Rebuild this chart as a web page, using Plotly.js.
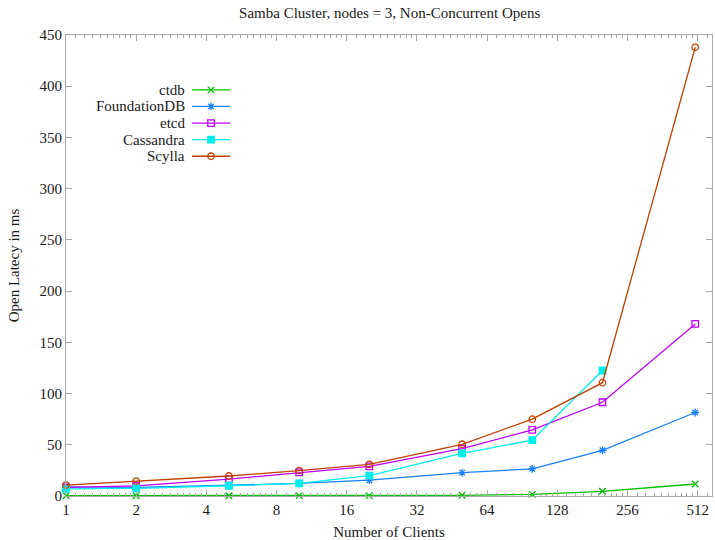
<!DOCTYPE html>
<html>
<head>
<meta charset="utf-8">
<script src="https://cdn.plot.ly/plotly-3.0.1.min.js"></script>
<style>html,body{margin:0;padding:0;background:#fff;}#chart{width:715px;height:540px;}</style>
</head>
<body>
<div id="chart"></div>
<script>
// ---- data ----
const clients = [1, 2, 5, 10, 20, 50, 100, 200, 500];
const ctdb = [0.3, 0.3, 0.3, 0.4, 0.4, 0.7, 1.6, 4.6, 11.7];
const foundationDB = [9, 8.5, 10.5, 12.4, 15.4, 22.8, 26.5, 44.6, 81.5];
const etcd = [8.5, 9.8, 16.5, 23, 29, 46.3, 64.5, 91.5, 168];
const cassandra = [7, 7.5, 10, 12.4, 19.8, 41.6, 54.5, 122.5];
const scylla = [10.7, 14.6, 19.5, 24.7, 30.8, 50.5, 75, 110.6, 438];
const seriesNames = ["ctdb", "FoundationDB", "etcd", "Cassandra", "Scylla"];
const xTickVals = [1, 2, 4, 8, 16, 32, 64, 128, 256, 512];
const yTickVals = [0, 50, 100, 150, 200, 250, 300, 350, 400, 450];

// ---- styles ----
const colors = ["#00c000", "#1a80ff", "#c000ff", "#00eeee", "#c04000"];
const symbols = ["x-thin-open", "asterisk-open", "square-open", "square", "circle-open"];
const msizes = [6.5, 6.5, 6.5, 6.5, 6.5];
const values = [ctdb, foundationDB, etcd, cassandra, scylla];
const FONT = "Liberation Serif, Times New Roman, serif";
const axisGray = "#a8a8a8";
const TXT = "#1a1a1a";

// minor ticks (log-style linear steps between powers of two)
const minorVals = [];
for (let i = 0; i < xTickVals.length; i++) {
  const b = xTickVals[i];
  for (let k = 1; k <= 9; k++) {
    const v = b * (1 + k / 10);
    if (v < 590) minorVals.push(v);
  }
}

const traces = [];
values.forEach((ys, i) => {
  traces.push({
    x: clients.slice(0, ys.length), y: ys, type: "scatter", mode: "lines+markers",
    name: seriesNames[i], showlegend: false,
    line: {color: colors[i], width: 1.3},
    marker: {symbol: symbols[i], size: msizes[i], color: colors[i], line: {color: colors[i], width: 1.3}},
    cliponaxis: false
  });
});

// custom gnuplot-style legend (text left, sample right)
const legX0 = 0.195, legX1 = 0.254, legXm = 0.2245, legTextX = 0.188;
const legY = [0.881, 0.845, 0.809, 0.773, 0.737];
const annotations = [];
seriesNames.forEach((n, i) => {
  traces.push({
    x: [legX0, legX1], y: [legY[i], legY[i]], xaxis: "x2", yaxis: "y2",
    type: "scatter", mode: "lines", showlegend: false, hoverinfo: "skip",
    line: {color: colors[i], width: 1.3}
  });
  traces.push({
    x: [legXm], y: [legY[i]], xaxis: "x2", yaxis: "y2",
    type: "scatter", mode: "markers", showlegend: false, hoverinfo: "skip",
    marker: {symbol: symbols[i], size: msizes[i], color: colors[i], line: {color: colors[i], width: 1.3}}
  });
  annotations.push({
    xref: "paper", yref: "paper", x: legTextX, y: legY[i], xanchor: "right", yanchor: "middle",
    text: n, showarrow: false, font: {family: FONT, size: 15, color: TXT}
  });
});

const layout = {
  width: 715, height: 540,
  margin: {l: 66, r: 3, t: 35, b: 44, pad: 0},
  paper_bgcolor: "#fff", plot_bgcolor: "#fff",
  font: {family: FONT, size: 15, color: TXT},
  showlegend: false,
  title: {text: "Samba Cluster, nodes = 3, Non-Concurrent Opens", x: 0.545, xanchor: "center", y: 0.976, yanchor: "middle",
          font: {family: FONT, size: 15, color: TXT}},
  xaxis: {
    type: "log", range: [0, Math.log10(590)],
    tickmode: "array", tickvals: xTickVals, ticktext: xTickVals.map(String),
    ticks: "inside", ticklen: 6, tickwidth: 1, tickcolor: axisGray,
    minor: {tickmode: "array", tickvals: minorVals, ticks: "inside", ticklen: 3, tickcolor: axisGray, tickwidth: 1, showgrid: false},
    showline: true, linecolor: axisGray, linewidth: 1, mirror: "ticks",
    showgrid: false, zeroline: false,
    tickfont: {family: FONT, size: 15, color: TXT},
    title: {text: "Number of Clients", standoff: 10, font: {family: FONT, size: 15, color: TXT}}
  },
  yaxis: {
    range: [0, 450], tickmode: "array", tickvals: yTickVals,
    ticks: "inside", ticklen: 6, tickwidth: 1, tickcolor: axisGray,
    showline: true, linecolor: axisGray, linewidth: 1, mirror: "ticks",
    showgrid: false, zeroline: false,
    tickfont: {family: FONT, size: 15, color: TXT},
    title: {text: "Open Latecy in ms", standoff: 16, font: {family: FONT, size: 15, color: TXT}}
  },
  xaxis2: {overlaying: "x", range: [0, 1], visible: false, fixedrange: true},
  yaxis2: {overlaying: "y", range: [0, 1], visible: false, fixedrange: true},
  annotations: annotations
};

Plotly.newPlot("chart", traces, layout, {displayModeBar: false, staticPlot: true});
</script>
</body>
</html>
